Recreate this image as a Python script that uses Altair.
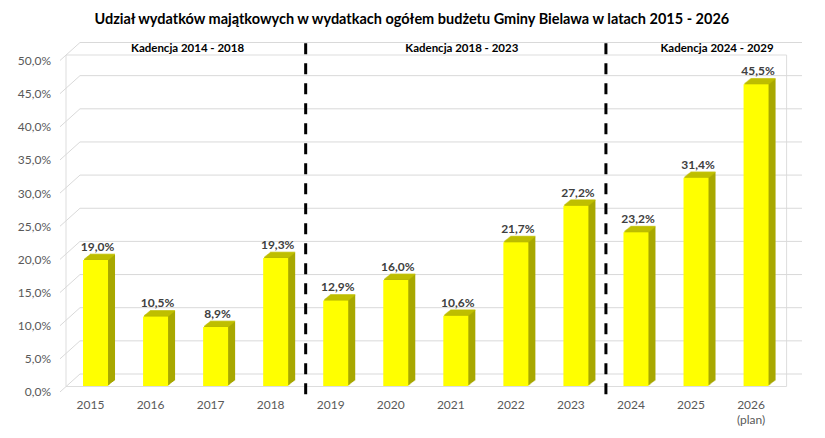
import altair as alt
import pandas as pd

years = ["2015", "2016", "2017", "2018", "2019", "2020", "2021", "2022", "2023", "2024", "2025", "2026"]
values = [19.0, 10.5, 8.9, 19.3, 12.9, 16.0, 10.6, 21.7, 27.2, 23.2, 31.4, 45.5]
grid_ticks = [0, 5, 10, 15, 20, 25, 30, 35, 40, 45, 50]
kad_labels = ["Kadencja 2014 - 2018", "Kadencja 2018 - 2023", "Kadencja 2024 - 2029"]
kad_anchor = ["2016", "2021", "2025"]
split_years = ["2018", "2023"]

FONT = "Lato"
df = pd.DataFrame({"year": years, "value": values})
df["label"] = [f"{v:.1f}".replace(".", ",") + "%" for v in values]
grid = pd.DataFrame({"v": grid_ticks})

W, H = 720.6, 331.5
xs = alt.X("year:N", sort=years, scale=alt.Scale(domain=years, paddingInner=0, paddingOuter=0),
           axis=alt.Axis(title=None, domain=False, ticks=False, labelFontSize=12, labelFont=FONT,
                         labelColor="#595959", labelPadding=14, labelOffset=-5, labelAngle=0,
                         labelOverlap=False, labelLineHeight=15,
                         labelExpr="datum.value == '2026' ? ['2026', '(plan)'] : datum.value"))
ysc = alt.Scale(domain=[0, 50], nice=False, zero=True)
yax = alt.Axis(title=None, values=grid_ticks, tickCount=11, grid=False, domain=False, ticks=False,
               labelFontSize=12, labelFont=FONT, labelColor="#595959", labelPadding=15,
               labelOffset=6, labelOverlap=False,
               labelExpr="replace(format(datum.value, '.1f'), '.', ',') + '%'")
yv = alt.Y("value:Q", scale=ysc, axis=yax)

base = alt.Chart(df)

back_grid = alt.Chart(grid).mark_rule(color="#D9D9D9", strokeWidth=1, yOffset=-12).encode(
    x=alt.value(14.5), x2=alt.value(736.5), y=alt.Y("v:Q", scale=ysc, axis=yax))
diag = alt.Chart(grid).mark_rule(color="#D9D9D9", strokeWidth=1, yOffset=6, y2Offset=-12).encode(
    x=alt.value(-5.5), x2=alt.value(14.5), y=alt.Y("v:Q", scale=ysc, axis=yax), y2="v:Q")

layers = [back_grid, diag]
steps = 7
for i in range(1, steps + 1):
    layers.append(base.mark_bar(size=25, color="#A8A800", xOffset=i, yOffset=-i * 0.8).encode(
        x=xs, y=yv))
for i in range(1, steps + 1):
    layers.append(base.mark_tick(size=25, thickness=1.6, color="#C2C200", xOffset=i,
                                 yOffset=-i * 0.8, orient="horizontal").encode(
        x=xs, y=yv))
layers.append(base.mark_bar(size=25, color="#FFFF00").encode(x=xs, y=yv))
layers.append(base.mark_text(font=FONT, fontSize=12, fontWeight="bold", color="#404040",
                             baseline="alphabetic", dy=-9, dx=2).encode(
    x=xs, y=yv, text="label:N"))

for yr in split_years:
    layers.append(alt.Chart(pd.DataFrame({"year": [yr]})).mark_rule(
        color="black", strokeWidth=3, strokeDash=[11, 9], xOffset=30).encode(
        x=alt.X("year:N", sort=years), y=alt.datum(51.7), y2=alt.datum(-2.6)))

kad_dx = [32, 6, 21]
for txt, anc, dxv in zip(kad_labels, kad_anchor, kad_dx):
    layers.append(alt.Chart(pd.DataFrame({"year": [anc], "t": [txt]})).mark_text(
        font=FONT, fontSize=11.5, fontWeight="bold", color="black", dx=dxv, dy=-6).encode(
        x=alt.X("year:N", sort=years), y=alt.datum(50), text="t:N"))

chart = alt.layer(*layers).properties(
    width=W, height=H,
    title=alt.TitleParams(
        "Udział wydatków majątkowych w wydatkach ogółem budżetu Gminy Bielawa w latach 2015 - 2026",
        font=FONT, fontSize=14.5, fontWeight="bold", color="black", anchor="middle", dx=-14, offset=14),
    padding={"left": 57.5, "top": 46.5, "right": 20, "bottom": 40},
    autosize=alt.AutoSizeParams(type="none"),
).configure_view(stroke=None).configure(background="white")

chart.save("out.html", embed_options={"renderer": "svg", "actions": False})
